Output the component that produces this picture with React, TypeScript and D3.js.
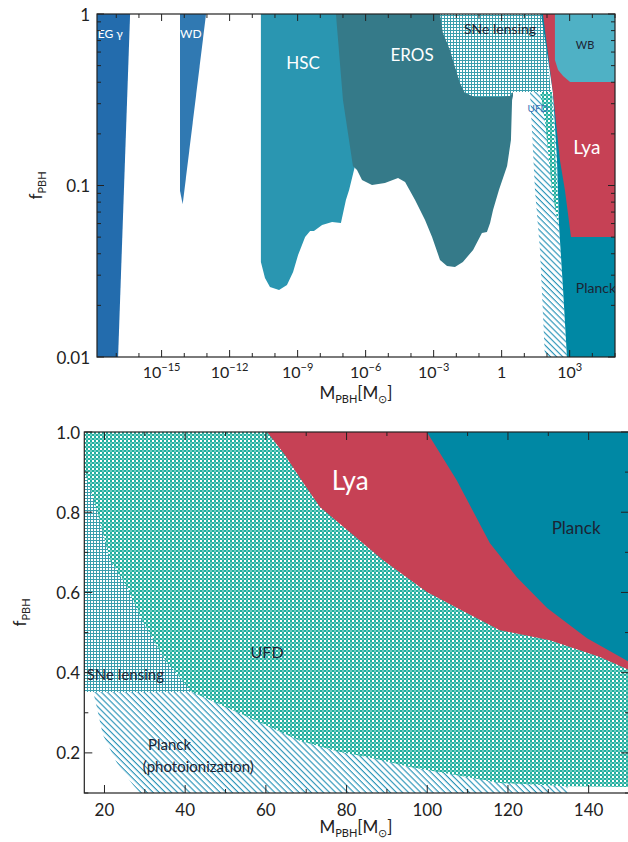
import React from 'react';
import * as d3 from 'd3';

// ---------- TOP PANEL (values are [log10 M/Msun, log10 f_PBH]) ----------
const egGammaTop = [[-17.85, 0], [-16.39, 0], [-16.92, -2], [-17.85, -2]];
const wdTop = [[-14.19, 0], [-13.04, 0], [-14.07, -1.11], [-14.19, -1.03]];
const hscTop = [[-10.62, 0], [-10.62, -1.446], [-10.44, -1.539], [-10.22, -1.592], [-9.82, -1.609], [-9.47, -1.58], [-9.2, -1.504], [-8.98, -1.405], [-8.67, -1.3], [-8.45, -1.265], [-8.28, -1.265], [-7.92, -1.23], [-7.48, -1.213], [-7.09, -1.219], [-6.87, -1.085], [-6.73, -1.026], [-6.47, -0.886], [-6.25, -0.5], [-6.25, 0]];
const erosTop = [[-7.31, 0], [-7.0, -0.501], [-6.56, -0.886], [-6.38, -0.91], [-6.16, -0.968], [-5.72, -0.997], [-5.15, -0.985], [-4.57, -0.956], [-4.26, -0.98], [-3.82, -1.085], [-3.38, -1.201], [-3.07, -1.3], [-2.72, -1.434], [-2.41, -1.469], [-2.06, -1.475], [-1.71, -1.446], [-1.26, -1.376], [-0.87, -1.277], [-0.65, -1.271], [-0.51, -1.219], [-0.38, -1.143], [-0.12, -1.026], [0.24, -0.886], [0.41, -0.735], [0.46, -0.501], [0.5, -0.478], [0.5, 0]];
const sneTop = [[-2.72, 0], [-2.59, -0.111], [-2.28, -0.21], [-2.06, -0.309], [-1.84, -0.402], [-1.62, -0.461], [-1.18, -0.484], [-0.07, -0.484], [0.37, -0.478], [0.5, -0.455], [2.18, -0.455], [1.82, 0]];
const photoTop = [[1.25, -0.455], [2.26, -0.455], [2.44, -0.851], [2.53, -1.23], [2.71, -1.609], [2.88, -2], [1.91, -2], [1.69, -1.376], [1.47, -1.026]];
const ufdTop = [[1.69, -0.455], [2.22, -0.455], [2.35, -0.793], [2.49, -1.085], [2.49, -1.23], [2.22, -1.026], [1.91, -0.618]];
const planckTop = [[1.74, 0], [2.26, -0.455], [2.44, -0.851], [2.53, -1.23], [2.71, -1.609], [2.88, -2], [5, -2], [5, 0]];
const lyaTop = [[1.82, 0], [2.26, -0.455], [2.57, -0.851], [2.79, -1.026], [3.06, -1.3], [5, -1.3], [5, 0]];
const wbTop = [[2.35, 0], [2.35, -0.268], [2.49, -0.327], [2.71, -0.362], [3.02, -0.397], [5, -0.397], [5, 0]];

const topXDecades = d3.range(-17, 6);
const topXLabelled = [-15, -12, -9, -6, -3, 0, 3];
const topYMajor = [0.01, 0.1, 1];
const topYLabels = ['0.01', '0.1', '1'];

// labels: [text, log10M, log10f, size, color, anchor]
const topLabels: [string, number, number, number, string, string][] = [
  ['EG γ', -17.82, -0.111, 12, '#ffffff', 'start'],
  ['WD', -14.19, -0.111, 12, '#ffffff', 'start'],
  ['HSC', -8.76, -0.28, 17, '#ffffff', 'middle'],
  ['EROS', -3.95, -0.239, 17, '#ffffff', 'middle'],
  ['SNe lensing', -0.07, -0.082, 14, '#1c2433', 'middle'],
  ['WB', 3.68, -0.175, 11, '#1c2433', 'middle'],
  ['UFD', 1.6, -0.548, 10, '#3a6fb5', 'middle'],
  ['Lya', 3.76, -0.77, 19, '#ffffff', 'middle'],
  ['Planck', 4.16, -1.592, 14, '#1c2433', 'middle'],
];

// ---------- BOTTOM PANEL (values are [M/Msun, f_PBH]) ----------
const ufdEdgeBottom = [[41.7, 0.352], [56.1, 0.287], [68.4, 0.23], [78.3, 0.202], [85.1, 0.19], [95.7, 0.165], [109.8, 0.14], [118, 0.125], [134.6, 0.117], [150, 0.115]];
const sneBottom = [[15, 0.898], [15.2, 0.898], [18.1, 0.806], [21.4, 0.681], [25.6, 0.614], [29.3, 0.531], [35, 0.432], [41.7, 0.352], [15, 0.352]];
const photoBottom = [[17.2, 0.352], [18.1, 0.314], [19.6, 0.245], [23.1, 0.175], [27.1, 0.12], [28.8, 0.1], [134.8, 0.1], [134.6, 0.2], [41.7, 0.5]];
const lyaBottom = [[60.3, 1], [64.7, 0.943], [68.5, 0.885], [73.4, 0.813], [80.1, 0.756], [89, 0.681], [99.9, 0.601], [109.8, 0.549], [118, 0.506], [130.4, 0.481], [142.8, 0.439], [150, 0.407], [150, 1]];
const planckBottom = [[99.9, 1], [107.3, 0.88], [115.5, 0.723], [122.2, 0.638], [129.7, 0.561], [139.6, 0.486], [150, 0.427], [150, 1]];

const botXTicks = d3.range(20, 150, 10);
const botXLabelled = [20, 40, 60, 80, 100, 120, 140];
const botYTicks = d3.range(1, 11).map((i) => i / 10);
const botYLabelled = [0.2, 0.4, 0.6, 0.8, 1.0];

const botLabels: [string, number, number, number, string, string][] = [
  ['Lya', 80.9, 0.88, 26, '#ffffff', 'middle'],
  ['Planck', 136.9, 0.761, 17, '#1c2433', 'middle'],
  ['UFD', 60.3, 0.454, 16, '#1c2433', 'middle'],
  ['SNe lensing', 15.6, 0.397, 15, '#1c2433', 'start'],
  ['Planck', 30.8, 0.222, 15, '#1c2433', 'start'],
  ['(photoionization)', 29.5, 0.168, 15, '#1c2433', 'start'],
];

const C = {
  eg: '#236CAD', wd: '#3079B2', hsc: '#2A96B1', eros: '#357A89',
  lya: '#C64155', planck: '#0088A4', wb: '#4FB1C5',
  grid: '#3A9EAD', ufd: '#22AF9F', hatch: '#2A94B8',
};
const FONT = 'Lato, "Noto Sans", sans-serif';

export default function App() {
  const tx = d3.scaleLog().domain([10 ** -17.85, 1e5]).range([97, 615]);
  const ty = d3.scaleLog().domain([0.01, 1]).range([357, 14]);
  const bx = d3.scaleLinear().domain([15, 150]).range([84.3, 629]);
  const by = d3.scaleLinear().domain([0.1, 1]).range([793, 432]);

  const topLine = d3.line<number[]>().x((d) => tx(10 ** d[0])).y((d) => ty(10 ** d[1]));
  const botLine = d3.line<number[]>().x((d) => bx(d[0])).y((d) => by(d[1]));
  const tp = (pts: number[][]) => topLine(pts) + 'Z';
  const bp = (pts: number[][]) => botLine(pts) + 'Z';

  const ufdBottom = [[15, 1], [150, 1], ...[...ufdEdgeBottom].reverse(), [15, 0.352]];

  const [tX0, tX1] = tx.range();
  const [tY0, tY1] = ty.range();
  const [bX0, bX1] = bx.range();
  const [bY0, bY1] = by.range();

  const topYMinor: number[] = [];
  [0.01, 0.1].forEach((b) => d3.range(2, 10).forEach((k) => topYMinor.push(b * k)));

  return (
    <svg width={628} height={842} style={{ position: 'absolute', left: 0, top: 0, background: '#fff' }} fontFamily={FONT}>
      <defs>
        <clipPath id="clipTop"><rect x={tX0} y={tY1} width={tX1 - tX0} height={tY0 - tY1} /></clipPath>
        <clipPath id="clipBot"><rect x={bX0} y={bY1} width={bX1 - bX0} height={bY0 - bY1} /></clipPath>
        <pattern id="grid" patternUnits="userSpaceOnUse" width={3} height={3}>
          <rect width={3} height={3} fill="#fff" />
          <rect x={0} y={0} width={3} height={1} fill={C.grid} />
          <rect x={0} y={0} width={1} height={3} fill={C.grid} />
        </pattern>
        <pattern id="dots" patternUnits="userSpaceOnUse" width={4} height={4}>
          <rect width={4} height={4} fill={C.ufd} />
          <rect x={0} y={0} width={2} height={2} fill="#fff" />
          <rect x={2} y={2} width={2} height={2} fill="#fff" opacity={0.35} />
        </pattern>
        <pattern id="hatch" patternUnits="userSpaceOnUse" width={8} height={4.3} patternTransform="rotate(45)">
          <rect width={8} height={4.3} fill="#fff" />
          <rect x={0} y={0} width={8} height={1.15} fill={C.hatch} />
        </pattern>
      </defs>

      {/* ---------- TOP PANEL ---------- */}
      <g clipPath="url(#clipTop)">
        <path d={tp(egGammaTop)} fill={C.eg} />
        <path d={tp(wdTop)} fill={C.wd} />
        <path d={tp(hscTop)} fill={C.hsc} />
        <path d={tp(erosTop)} fill={C.eros} />
        <path d={tp(sneTop)} fill="url(#grid)" />
        <path d={tp(photoTop)} fill="url(#hatch)" />
        <path d={tp(planckTop)} fill={C.planck} />
        <path d={tp(ufdTop)} fill="url(#dots)" />
        <path d={tp(lyaTop)} fill={C.lya} />
        <path d={tp(wbTop)} fill={C.wb} />
        {topLabels.map(([t, lm, lf, s, c, a], i) => (
          <text key={i} x={tx(10 ** lm)} y={ty(10 ** lf)} fontSize={s} fill={c} textAnchor={a} dominantBaseline="central">{t}</text>
        ))}
      </g>
      <rect x={tX0} y={tY1} width={tX1 - tX0} height={tY0 - tY1} fill="none" stroke="#222" strokeWidth={1.2} />
      {topXDecades.map((e) => {
        const x = tx(10 ** e);
        const len = topXLabelled.includes(e) ? 7 : 4;
        return (
          <g key={e} stroke="#222" strokeWidth={1}>
            <line x1={x} x2={x} y1={tY0} y2={tY0 - len} />
            <line x1={x} x2={x} y1={tY1} y2={tY1 + len} />
          </g>
        );
      })}
      {topXLabelled.map((e) => (
        <text key={e} x={tx(10 ** e)} y={378} fontSize={16} fill="#222" textAnchor="middle">
          {e === 0 ? '1' : (<><tspan>10</tspan><tspan dy={-7} fontSize={11}>{e < 0 ? '−' + -e : String(e)}</tspan></>)}
        </text>
      ))}
      {topYMajor.concat(topYMinor).map((v, i) => {
        const y = ty(v);
        const len = topYMajor.includes(v) ? 7 : 4;
        return (
          <g key={i} stroke="#222" strokeWidth={1}>
            <line x1={tX0} x2={tX0 + len} y1={y} y2={y} />
            <line x1={tX1} x2={tX1 - len} y1={y} y2={y} />
          </g>
        );
      })}
      {topYMajor.map((v, i) => (
        <text key={i} x={90} y={ty(v)} fontSize={17} fill="#222" textAnchor="end" dominantBaseline="central">{topYLabels[i]}</text>
      ))}
      <text transform={`translate(42,${(tY0 + tY1) / 2}) rotate(-90)`} textAnchor="middle" fontSize={17} fill="#222">
        <tspan>f</tspan><tspan fontSize={11} dy={4}>PBH</tspan>
      </text>
      <text x={356} y={399} textAnchor="middle" fontSize={17} fill="#222">
        <tspan>M</tspan><tspan fontSize={11} dy={4}>PBH</tspan><tspan dy={-4}>[M</tspan><tspan fontSize={11} dy={4}>⊙</tspan><tspan dy={-4}>]</tspan>
      </text>

      {/* ---------- BOTTOM PANEL ---------- */}
      <g clipPath="url(#clipBot)">
        <path d={bp(photoBottom)} fill="url(#hatch)" />
        <path d={bp(ufdBottom)} fill="url(#dots)" />
        <path d={bp(sneBottom)} fill="url(#grid)" />
        <path d={bp(lyaBottom)} fill={C.lya} />
        <path d={bp(planckBottom)} fill={C.planck} />
        {botLabels.map(([t, m, f, s, c, a], i) => (
          <text key={i} x={bx(m)} y={by(f)} fontSize={s} fill={c} textAnchor={a} dominantBaseline="central">{t}</text>
        ))}
      </g>
      <rect x={bX0} y={bY1} width={bX1 - bX0} height={bY0 - bY1} fill="none" stroke="#222" strokeWidth={1.2} />
      {botXTicks.map((v) => {
        const x = bx(v);
        const len = botXLabelled.includes(v) ? 8 : 4;
        return (
          <g key={v} stroke="#222" strokeWidth={1}>
            <line x1={x} x2={x} y1={bY0} y2={bY0 - len} />
            <line x1={x} x2={x} y1={bY1} y2={bY1 + len} />
          </g>
        );
      })}
      {botXLabelled.map((v) => (
        <text key={v} x={bx(v)} y={816} fontSize={17} fill="#222" textAnchor="middle">{v}</text>
      ))}
      {botYTicks.map((v, i) => {
        const y = by(v);
        const len = botYLabelled.some((l) => Math.abs(l - v) < 1e-9) ? 8 : 4;
        return (
          <g key={i} stroke="#222" strokeWidth={1}>
            <line x1={bX0} x2={bX0 + len} y1={y} y2={y} />
            <line x1={bX1} x2={bX1 - len} y1={y} y2={y} />
          </g>
        );
      })}
      {botYLabelled.map((v, i) => (
        <text key={i} x={80} y={by(v)} fontSize={17} fill="#222" textAnchor="end" dominantBaseline="central">{v.toFixed(1)}</text>
      ))}
      <text transform={`translate(26,${(bY0 + bY1) / 2}) rotate(-90)`} textAnchor="middle" fontSize={17} fill="#222">
        <tspan>f</tspan><tspan fontSize={11} dy={4}>PBH</tspan>
      </text>
      <text x={356} y={833} textAnchor="middle" fontSize={17} fill="#222">
        <tspan>M</tspan><tspan fontSize={11} dy={4}>PBH</tspan><tspan dy={-4}>[M</tspan><tspan fontSize={11} dy={4}>⊙</tspan><tspan dy={-4}>]</tspan>
      </text>
    </svg>
  );
}
